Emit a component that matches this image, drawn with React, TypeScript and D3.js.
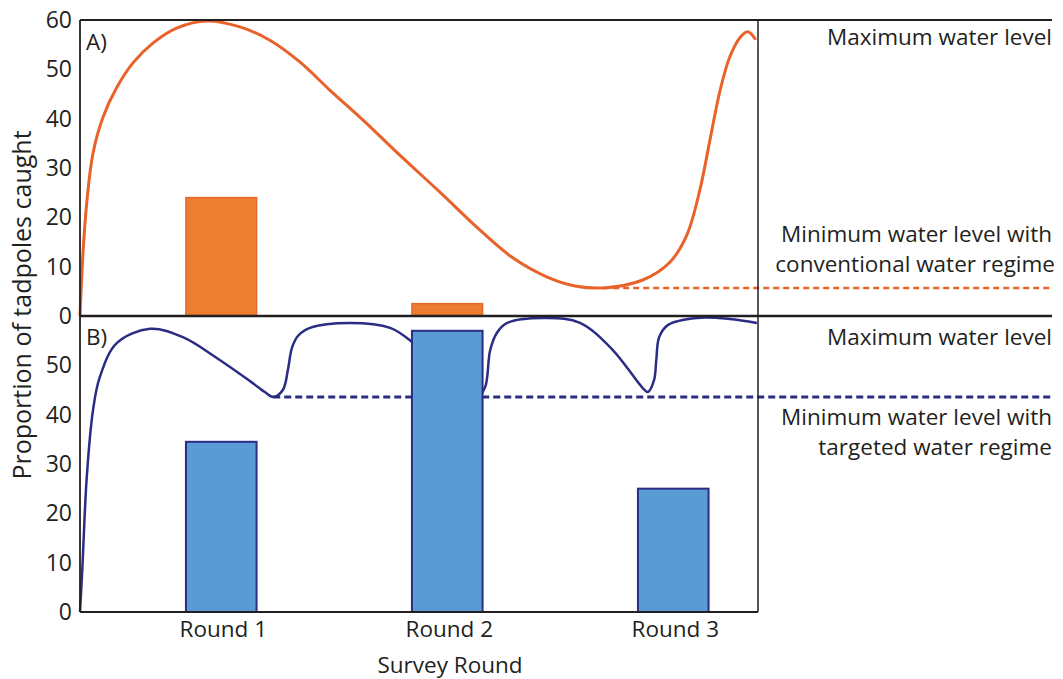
import React from "react";
import * as d3 from "d3";

// Survey rounds (day of season each survey was carried out)
const rounds = ["Round 1", "Round 2", "Round 3"];
const roundDays = [25, 65, 105];

// Proportion of tadpoles caught per round
const caughtConventional = [24, 2.5, 0];
const caughtTargeted = [34.5, 57, 25];

// Water level through the season, conventional regime (day, level)
const levelConventional: [number, number][] = [
  [0, 0], [0.53, 12.8], [1.24, 23.5], [2.3, 33.0], [4.07, 40.3], [6.55, 46.4],
  [9.38, 51.3], [12.9, 55.3], [17.2, 58.4], [22.5, 59.8], [28.3, 58.6],
  [33.6, 55.9], [38.9, 51.5], [44.2, 45.8], [50.1, 39.7], [56.6, 32.6],
  [63.7, 25.1], [70.8, 17.4], [76.6, 11.8], [82.7, 7.9], [87.6, 6.1],
  [92.6, 5.7], [99.6, 7.3], [104.4, 10.9], [107.4, 16.4], [109.7, 25.5],
  [111.5, 35.7], [113.3, 45.8], [115.0, 52.5], [116.8, 56.4], [118.2, 57.6],
  [119.6, 56.0],
];

// Water level through the season, targeted regime (day, level)
const levelTargeted: [number, number][] = [
  [0, 0], [0.4, 8.5], [1.2, 27.4], [2.3, 40.9], [3.5, 47.6], [6.5, 54.5],
  [12.4, 57.4], [18.2, 55.7], [24.2, 51.5], [30.1, 46.8], [32.7, 44.6],
  [34.2, 43.6], [35.9, 45.0], [36.8, 49.1], [37.5, 53.5], [38.6, 56.0],
  [40.7, 57.6], [47.8, 58.6], [54.9, 57.6], [58.8, 54.7], [63.7, 49.1],
  [70.4, 43.8], [71.7, 45.6], [72.6, 53.1], [73.8, 56.6], [75.6, 58.6],
  [82.7, 59.6], [88.5, 58.6], [94.3, 53.1], [99.6, 45.4], [100.5, 44.6],
  [101.6, 47.0], [102.0, 51.1], [102.5, 55.7], [104.1, 58.2], [109.2, 59.6],
  [115.0, 59.4], [119.8, 58.6],
];

// Minimum water levels and the day they are first reached
const minConventional = { day: 92.6, level: 5.7 };
const minTargeted = { day: 34.2, level: 43.6 };

const yTicks = [0, 10, 20, 30, 40, 50, 60];
const yTicksB = [0, 10, 20, 30, 40, 50];

const W = 1063;
const H = 679;
const left = 80;
const right = 758;
const labelRight = 1052;
const topA = 20;
const mid = 316;
const bottom = 612;

const ORANGE_LINE = "#E8622A";
const ORANGE_BAR = "#ED7D31";
const ORANGE_EDGE = "#E4672B";
const NAVY = "#2B2C84";
const BLUE_BAR = "#5B9BD5";
const INK = "#231F20";
const FONT = "'Open Sans', Lato, sans-serif";

export default function App() {
  const x = d3.scaleLinear().domain([0, 120]).range([left, right]);
  const yA = d3.scaleLinear().domain([0, 60]).range([mid, topA]);
  const yB = d3.scaleLinear().domain([0, 60]).range([bottom, mid]);
  const barDays = 12.5;
  const barW = x(barDays) - x(0);

  const lineA = d3
    .line<[number, number]>()
    .x((d) => x(d[0]))
    .y((d) => yA(d[1]))
    .curve(d3.curveCatmullRom.alpha(0.5));
  const lineB = d3
    .line<[number, number]>()
    .x((d) => x(d[0]))
    .y((d) => yB(d[1]))
    .curve(d3.curveCatmullRom.alpha(0.5));

  const labelStyle: React.CSSProperties = { fontFamily: FONT, fontSize: 22.5, fill: INK };
  const tickStyle: React.CSSProperties = { ...labelStyle, fontSize: 23 };

  return (
    <svg
      width={W}
      height={H}
      viewBox={`0 0 ${W} ${H}`}
      style={{ position: "absolute", left: 0, top: 0, background: "#fff" }}
    >
      {/* Panel A: conventional regime */}
      <path d={lineA(levelConventional) ?? ""} fill="none" stroke={ORANGE_LINE} strokeWidth={3} />
      <line
        x1={x(minConventional.day)}
        x2={labelRight}
        y1={yA(minConventional.level)}
        y2={yA(minConventional.level)}
        stroke={ORANGE_LINE}
        strokeWidth={2.5}
        strokeDasharray="6 4"
      />
      {caughtConventional.map((v, i) =>
        v > 0 ? (
          <rect
            key={rounds[i]}
            x={x(roundDays[i]) - barW / 2}
            y={yA(v)}
            width={barW}
            height={yA(0) - yA(v)}
            fill={ORANGE_BAR}
            stroke={ORANGE_EDGE}
            strokeWidth={1.5}
          />
        ) : null
      )}

      {/* Panel B: targeted regime */}
      <path d={lineB(levelTargeted) ?? ""} fill="none" stroke={NAVY} strokeWidth={2.5} />
      <line
        x1={x(minTargeted.day)}
        x2={labelRight}
        y1={yB(minTargeted.level)}
        y2={yB(minTargeted.level)}
        stroke={NAVY}
        strokeWidth={3}
        strokeDasharray="7 4"
      />
      {caughtTargeted.map((v, i) => (
        <rect
          key={rounds[i]}
          x={x(roundDays[i]) - barW / 2}
          y={yB(v)}
          width={barW}
          height={yB(0) - yB(v)}
          fill={BLUE_BAR}
          stroke={NAVY}
          strokeWidth={2}
        />
      ))}

      {/* Frame */}
      <line x1={left} x2={labelRight} y1={topA} y2={topA} stroke={INK} strokeWidth={1.8} />
      <line x1={left} x2={labelRight} y1={mid} y2={mid} stroke={INK} strokeWidth={2.5} />
      <line x1={left} x2={right} y1={bottom} y2={bottom} stroke={INK} strokeWidth={1.8} />
      <line x1={left} x2={left} y1={topA} y2={bottom} stroke={INK} strokeWidth={1.8} />
      <line x1={right} x2={right} y1={topA} y2={bottom} stroke={INK} strokeWidth={1.5} />

      {/* Y tick labels */}
      {yTicks.map((t) => (
        <text key={"a" + t} x={left - 8} y={yA(t)} dy="0.35em" textAnchor="end" style={tickStyle}>
          {t}
        </text>
      ))}
      {yTicksB.map((t) => (
        <text key={"b" + t} x={left - 8} y={yB(t)} dy="0.35em" textAnchor="end" style={tickStyle}>
          {t}
        </text>
      ))}

      {/* Panel tags */}
      <text x={left + 6} y={yA(60) + 22} dy="0.35em" style={labelStyle}>A)</text>
      <text x={left + 6} y={yB(60) + 21} dy="0.35em" style={labelStyle}>B)</text>

      {/* Round labels */}
      {rounds.map((r, i) => (
        <text key={r} x={x(roundDays[i]) + 2} y={bottom + 17} dy="0.35em" textAnchor="middle" style={labelStyle}>
          {r}
        </text>
      ))}
      <text x={(left + right) / 2 + 31} y={bottom + 53} dy="0.35em" textAnchor="middle" style={labelStyle}>
        Survey Round
      </text>
      <text
        transform={`translate(22, 305) rotate(-90)`}
        textAnchor="middle"
        dy="0.35em"
        style={{ ...labelStyle, fontSize: 25 }}
      >
        Proportion of tadpoles caught
      </text>

      {/* Water level annotations */}
      <text x={labelRight} y={37} dy="0.35em" textAnchor="end" style={labelStyle}>Maximum water level</text>
      <text x={labelRight} y={234} dy="0.35em" textAnchor="end" style={labelStyle}>Minimum water level with</text>
      <text x={labelRight + 3} y={264} dy="0.35em" textAnchor="end" style={labelStyle}>conventional water regime</text>
      <text x={labelRight} y={337} dy="0.35em" textAnchor="end" style={labelStyle}>Maximum water level</text>
      <text x={labelRight} y={417} dy="0.35em" textAnchor="end" style={labelStyle}>Minimum water level with</text>
      <text x={labelRight} y={447} dy="0.35em" textAnchor="end" style={labelStyle}>targeted water regime</text>
    </svg>
  );
}
